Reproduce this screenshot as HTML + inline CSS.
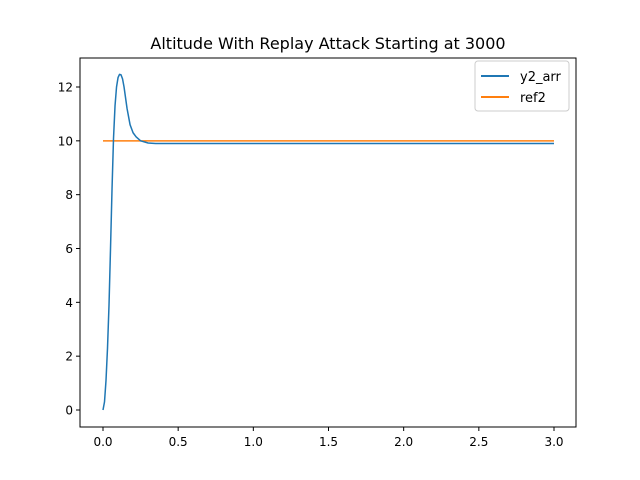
<!DOCTYPE html>
<html><head><meta charset="utf-8"><style>
body{margin:0;background:#fff}
svg{display:block;font-family:"DejaVu Sans","Liberation Sans",sans-serif}
</style></head><body>
<svg id="chart" width="640" height="480">
<rect width="640" height="480" fill="#fff"/>
<text x="328" y="49" font-size="16" text-anchor="middle">Altitude With Replay Attack Starting at 3000</text>
<g id="plot"></g>
<rect x="80" y="58" width="496" height="369" fill="none" stroke="#000" stroke-width="1"/>
<g>
<rect x="475" y="61" width="94" height="50" rx="3" fill="#fff" stroke="#ccc"/>
<line x1="481" y1="76" x2="509" y2="76" stroke="#1f77b4" stroke-width="2"/>
<text x="520" y="81" font-size="13">y2_arr</text>
<line x1="481" y1="97" x2="509" y2="97" stroke="#ff7f0e" stroke-width="2"/>
<text x="520" y="102" font-size="13">ref2</text>
</g>
</svg>
<script>
const tVals=[0,0.01,0.02,0.03,0.04,0.05,0.06,0.07,0.08,0.09,0.1,0.11,0.12,0.13,0.14,0.15,0.16,0.18,0.2,0.22,0.25,0.3,0.35,0.5,1,3];
const y2Vals=[0,0.3,1.1,2.3,3.9,6,8.2,10.1,11.3,12.0,12.35,12.47,12.45,12.3,12.0,11.6,11.2,10.6,10.3,10.15,10.0,9.92,9.9,9.9,9.9,9.9];
const refT=[0,3];
const refVals=[10,10];
const xTicks=[0,0.5,1,1.5,2,2.5,3];
const xTickLabels=["0.0","0.5","1.0","1.5","2.0","2.5","3.0"];
const yTicks=[0,2,4,6,8,10,12];
const yTickLabels=["0","2","4","6","8","10","12"];
const X=v=>103+v*(554-103)/3;
const Y=v=>410-v*(410-87)/12;
const NS="http://www.w3.org/2000/svg";
const g=document.getElementById('plot');
function mk(t,a,p){const e=document.createElementNS(NS,t);for(const k in a)e.setAttribute(k,a[k]);(p||g).appendChild(e);return e;}
xTicks.forEach((v,i)=>{
 const l=mk('line',{x1:X(v),x2:X(v),y1:427,y2:431,stroke:'#000'});
 
 
 const t=mk('text',{x:X(v),y:446,'font-size':12,'text-anchor':'middle'});
 t.textContent=xTickLabels[i];
 
 
});
yTicks.forEach((v,i)=>{
 const l=mk('line',{x1:76,x2:80,y1:Y(v),y2:Y(v),stroke:'#000'});
 
 
 const t=mk('text',{x:73,y:Y(v)+4.5,'font-size':12,'text-anchor':'end'});
 t.textContent=yTickLabels[i];
 
 
});
const p2=mk('path',{d:refT.map((t,i)=>(i?'L':'M')+X(t)+' '+Y(refVals[i])).join(''),fill:'none',stroke:'#ff7f0e','stroke-width':1.5});


const p1=mk('path',{d:tVals.map((t,i)=>(i?'L':'M')+X(t)+' '+Y(y2Vals[i])).join(''),fill:'none',stroke:'#1f77b4','stroke-width':1.5,'stroke-linejoin':'round'});


</script>
</body></html>
